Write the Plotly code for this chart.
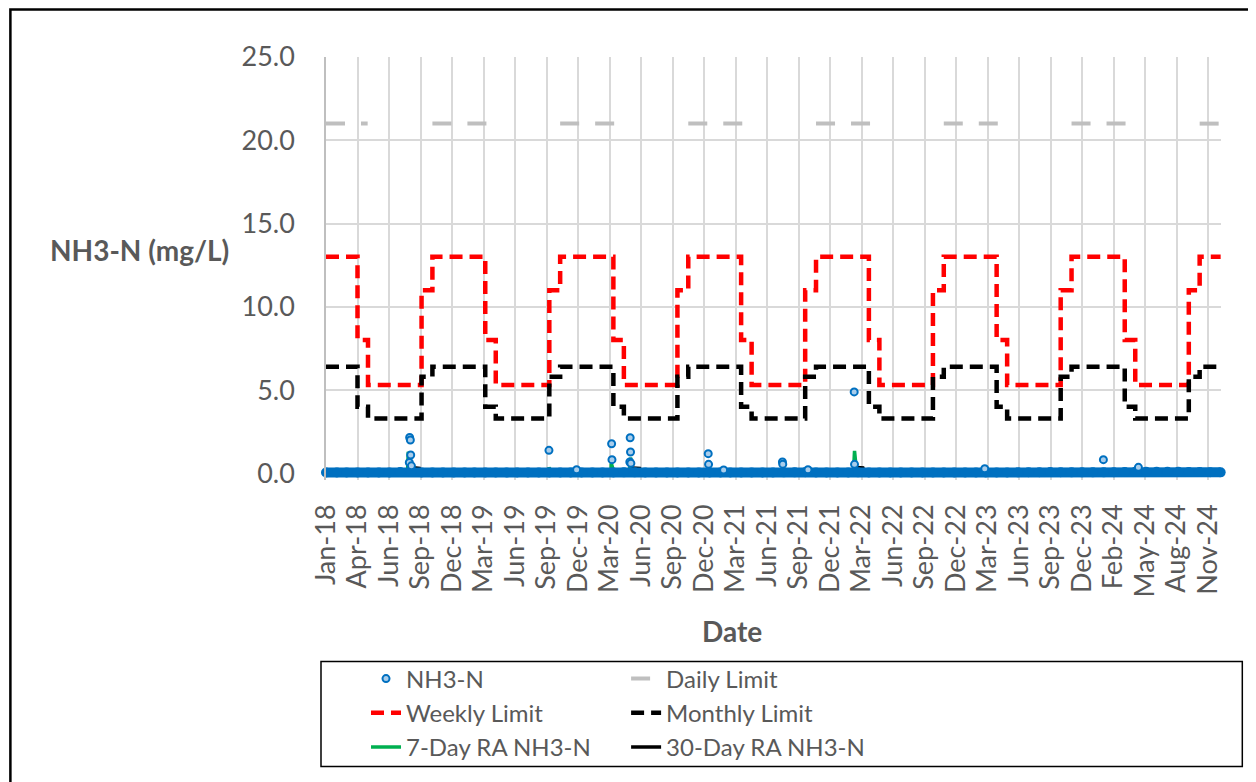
import pandas as pd
import plotly.graph_objects as go

# ─── Data ──────────────────────────────────────────────────────────────────────

tick_labels = [
    "Jan-18", "Apr-18", "Jun-18", "Sep-18", "Dec-18", "Mar-19", "Jun-19", "Sep-19",
    "Dec-19", "Mar-20", "Jun-20", "Sep-20", "Dec-20", "Mar-21", "Jun-21", "Sep-21",
    "Dec-21", "Mar-22", "Jun-22", "Sep-22", "Dec-22", "Mar-23", "Jun-23", "Sep-23",
    "Dec-23", "Feb-24", "May-24", "Aug-24", "Nov-24",
]
tick_dates = pd.date_range("2018-01-01", periods=len(tick_labels), freq="90D")

years = list(range(2018, 2025))

# permit limits (mg/L); each level starts on the 1st of the given month
limit_months   = [1, 4, 5, 10, 11]
weekly_levels  = [13.0, 8.0, 5.3, 11.0, 13.0]
monthly_levels = [6.4, 4.0, 3.3, 5.8, 6.4]

daily_level = 21.0
daily_seasons = [
    ("2018-01-01", "2018-04-30"), ("2018-11-01", "2019-04-30"),
    ("2019-11-01", "2020-04-30"), ("2020-11-01", "2021-04-30"),
    ("2021-11-01", "2022-04-30"), ("2022-11-01", "2023-04-30"),
    ("2023-11-01", "2024-04-30"), ("2024-11-01", "2024-12-31"),
]

# NH3-N typical (monthly) level — the dense band of daily results near zero
nh3_base_dates = list(pd.date_range("2018-01-01", "2024-12-01", freq="MS")) + [pd.Timestamp("2024-12-31")]
nh3_base = [
    0.05, 0.05, 0.05, 0.05, 0.05, 0.05, 0.05, 0.08, 0.08, 0.05, 0.05, 0.05,   # 2018
    0.05, 0.05, 0.05, 0.05, 0.05, 0.05, 0.05, 0.05, 0.05, 0.05, 0.05, 0.05,   # 2019
    0.05, 0.05, 0.05, 0.05, 0.06, 0.06, 0.05, 0.05, 0.05, 0.05, 0.05, 0.05,   # 2020
    0.05, 0.05, 0.05, 0.05, 0.05, 0.05, 0.05, 0.06, 0.06, 0.07, 0.05, 0.05,   # 2021
    0.05, 0.05, 0.06, 0.05, 0.05, 0.05, 0.05, 0.05, 0.05, 0.05, 0.05, 0.05,   # 2022
    0.05, 0.05, 0.05, 0.05, 0.05, 0.06, 0.07, 0.07, 0.08, 0.07, 0.06, 0.06,   # 2023
    0.06, 0.06, 0.07, 0.08, 0.10, 0.10, 0.10, 0.10, 0.09, 0.08, 0.08, 0.07,   # 2024
    0.06,
]

# NH3-N results standing out from the band
nh3_dates = [
    "2018-08-28", "2018-08-30", "2018-08-31", "2018-08-27", "2018-09-02",
    "2019-09-30", "2019-12-18",
    "2020-03-27", "2020-03-28",
    "2020-05-18", "2020-05-19", "2020-05-20", "2020-05-21",
    "2020-12-28", "2020-12-29", "2021-02-10",
    "2021-07-28", "2021-07-29", "2021-10-09",
    "2022-02-18", "2022-02-19",
    "2023-02-26", "2024-01-31", "2024-05-10",
]
nh3_vals = [
    2.15, 2.00, 1.10, 0.65, 0.45,
    1.38, 0.22,
    1.78, 0.82,
    0.68, 2.14, 1.28, 0.60,
    1.18, 0.54, 0.20,
    0.68, 0.55, 0.22,
    4.89, 0.54,
    0.28, 0.82, 0.36,
]

ra7_dates = [
    "2018-01-01", "2018-08-22", "2018-08-24", "2018-09-06",
    "2019-09-28", "2019-09-30", "2019-10-06",
    "2020-03-25", "2020-03-26", "2020-04-03",
    "2020-05-17", "2020-05-20", "2020-05-27",
    "2020-12-27", "2020-12-29", "2021-01-04",
    "2022-02-16", "2022-02-19", "2022-02-25",
    "2024-12-31",
]
ra7_vals = [
    0.05, 0.05, 1.30, 0.05,
    0.05, 0.35, 0.05,
    0.05, 0.60, 0.05,
    0.05, 0.95, 0.05,
    0.05, 0.35, 0.05,
    0.05, 1.35, 0.05,
    0.05,
]

ra30_dates = [
    "2018-01-01", "2018-08-27", "2018-09-05", "2018-09-25", "2018-10-01",
    "2020-05-18", "2020-05-28", "2020-06-15", "2020-06-20",
    "2022-02-18", "2022-02-28", "2022-03-15", "2022-03-20",
    "2024-12-31",
]
ra30_vals = [
    0.05, 0.05, 0.35, 0.30, 0.05,
    0.05, 0.32, 0.30, 0.05,
    0.05, 0.35, 0.32, 0.05,
    0.05,
]

# ─── Helpers ──────────────────────────────────────────────────────────────────

def step_series(levels):
    xs, ys = [], []
    for yr in years:
        for m, lvl in zip(limit_months, levels):
            xs.append(pd.Timestamp(yr, m, 1))
            ys.append(lvl)
    xs.append(pd.Timestamp("2024-12-31"))
    ys.append(levels[-1])
    return xs, ys


def season_series(seasons, level):
    xs, ys = [], []
    for start, end in seasons:
        xs += [pd.Timestamp(start), pd.Timestamp(end), None]
        ys += [level, level, None]
    return xs, ys


# ─── Layout geometry (page shows the figure 8px in from the corner) ───────────

FONT = "Lato, 'Open Sans', sans-serif"
GREY = "#595959"

W, H = 1256, 782
OFF = 8
L, T = 318, 49
plot_right, plot_bottom = 1212.7, 471.66
R, B = W - plot_right, H - plot_bottom
pw, ph = plot_right - L, plot_bottom - T


def fx(sx):
    """screen x (as seen in the picture) -> paper fraction"""
    return (sx - OFF - L) / pw


def fy(sy):
    """screen y -> paper fraction"""
    return (plot_bottom - (sy - OFF)) / ph


# ─── Figure ───────────────────────────────────────────────────────────────────

fig = go.Figure()

dx, dy = season_series(daily_seasons, daily_level)
fig.add_trace(go.Scatter(
    x=dx, y=dy, name="Daily Limit", mode="lines", connectgaps=False,
    line=dict(color="#BFBFBF", width=4, dash="19px,16px"),
    legend="legend2", legendrank=1,
))

wx, wy = step_series(weekly_levels)
fig.add_trace(go.Scatter(
    x=wx, y=wy, name="Weekly Limit", mode="lines", line_shape="hv",
    line=dict(color="#FF0000", width=4.5, dash="13px,7px"),
    legend="legend", legendrank=2,
))

mx, my = step_series(monthly_levels)
fig.add_trace(go.Scatter(
    x=mx, y=my, name="Monthly Limit", mode="lines", line_shape="hv",
    line=dict(color="#000000", width=4.5, dash="13px,7px"),
    legend="legend2", legendrank=2,
))

fig.add_trace(go.Scatter(
    x=ra7_dates, y=ra7_vals, name="7-Day RA NH3-N", mode="lines",
    line=dict(color="#00B050", width=3.5),
    legend="legend", legendrank=3,
))
fig.add_trace(go.Scatter(
    x=ra30_dates, y=ra30_vals, name="30-Day RA NH3-N", mode="lines",
    line=dict(color="#000000", width=3.5),
    legend="legend2", legendrank=3,
))

# dense daily results merge into a solid band
fig.add_trace(go.Scatter(
    x=nh3_base_dates, y=nh3_base, mode="lines+markers", showlegend=False,
    line=dict(color="#0070C0", width=10),
    marker=dict(color="#0070C0", size=10), cliponaxis=False,
    hoverinfo="skip",
))
fig.add_trace(go.Scatter(
    x=nh3_dates, y=nh3_vals, name="NH3-N", mode="markers", cliponaxis=False,
    marker=dict(color="#A9CDEB", size=7, line=dict(color="#0070C0", width=2)),
    legend="legend", legendrank=1,
))

legend_common = dict(
    orientation="v", xanchor="left", yanchor="top", y=fy(656),
    traceorder="normal", tracegroupgap=0,
    font=dict(family=FONT, size=24, color=GREY),
    bgcolor="rgba(0,0,0,0)", borderwidth=0,
)

fig.update_layout(
    width=W, height=H,
    margin=dict(l=L, r=R, t=T, b=B),
    plot_bgcolor="white", paper_bgcolor="white",
    font=dict(family=FONT, color=GREY),
    showlegend=True,
    legend=dict(x=fx(366), **legend_common),
    legend2=dict(x=fx(626), **legend_common),
    xaxis=dict(
        type="date", range=["2018-01-01", "2025-01-01"],
        tickvals=tick_dates, ticktext=tick_labels, tickangle=-90,
        tickfont=dict(size=27, color=GREY), ticks="", ticklabelstandoff=18,
        showgrid=True, gridcolor="#D9D9D9", gridwidth=1.5,
        zeroline=False, showline=False,
    ),
    yaxis=dict(
        range=[-0.4, 25], tickvals=[0, 5, 10, 15, 20, 25], tickformat=".1f",
        tickfont=dict(size=27, color=GREY), ticklabelstandoff=24,
        showgrid=True, gridcolor="#D9D9D9", gridwidth=1.5,
        zeroline=False, showline=True, linecolor="#BFBFBF", linewidth=1.5,
    ),
    annotations=[
        dict(text="<b>NH3-N (mg/L)</b>", xref="paper", yref="paper",
             x=fx(48), y=fy(250), xanchor="left", yanchor="middle",
             showarrow=False, font=dict(size=28, color=GREY)),
        dict(text="<b>Date</b>", xref="paper", yref="paper",
             x=fx(732), y=fy(631), xanchor="center", yanchor="middle",
             showarrow=False, font=dict(size=28, color=GREY)),
    ],
    shapes=[
        # chart-area border (right/bottom edges fall outside the picture)
        dict(type="rect", xref="paper", yref="paper",
             x0=fx(10.5), x1=fx(1300), y0=fy(820), y1=fy(9.5),
             line=dict(color="black", width=2.5), layer="above"),
        # legend box
        dict(type="rect", xref="paper", yref="paper",
             x0=fx(321), x1=fx(1242), y0=fy(766), y1=fy(661),
             line=dict(color="black", width=1.5)),
    ],
)

fig.write_html("out.html")
